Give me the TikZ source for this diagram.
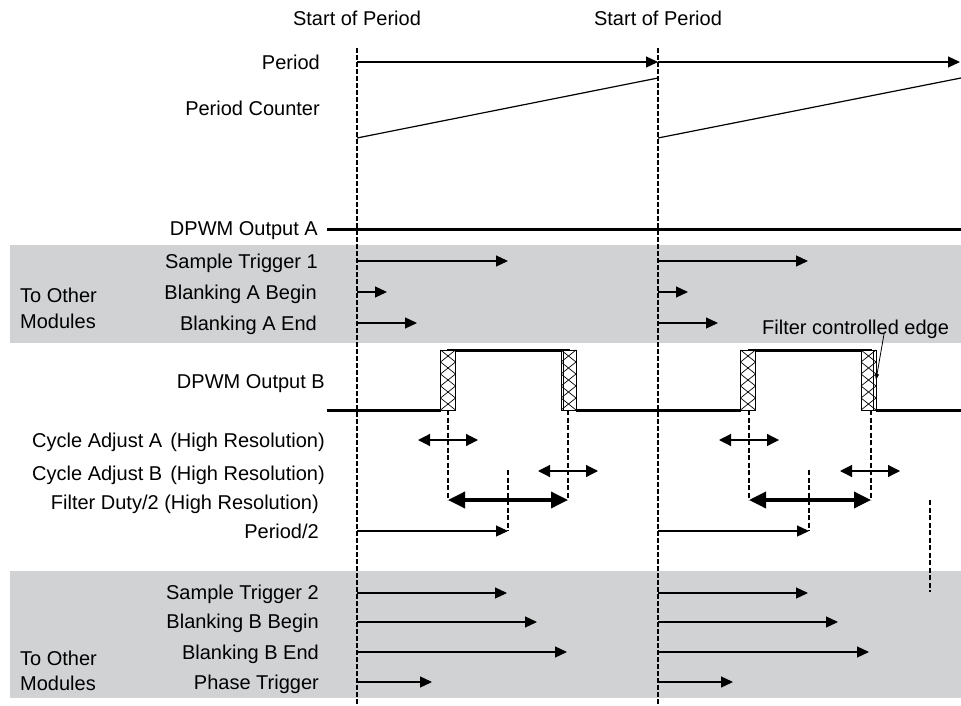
\documentclass[tikz,border=0pt]{standalone}
\usepackage{fontspec}
\setmainfont{Liberation Sans}
\usetikzlibrary{arrows.meta}
\definecolor{band}{RGB}{209,210,212}
\begin{document}
\begin{tikzpicture}[x=1pt,y=-1pt,
  font=\fontsize{20}{24}\selectfont,
  lbl/.style={anchor=east, inner sep=0pt, text height=0.716em, text depth=0pt, yshift=-3.5pt},
  lblw/.style={anchor=west, inner sep=0pt, text height=0.716em, text depth=0pt, yshift=-3.5pt},
  lblc/.style={anchor=center, inner sep=0pt, text height=0.716em, text depth=0pt, yshift=-3.5pt},
  sig/.style={line width=1.2pt, -{Triangle[length=12pt,width=11pt]}},
  wave/.style={line width=3pt},
  vdash/.style={line width=2pt, dash pattern=on 5pt off 2pt},
  sdash/.style={line width=2pt, dash pattern=on 5pt off 2.5pt},
  dbl/.style={line width=1.2pt, {Triangle[length=12pt,width=12pt]}-{Triangle[length=12pt,width=12pt]}},
  fdbl/.style={line width=3.5pt, {Triangle[length=17pt,width=16pt]}-{Triangle[length=17pt,width=16pt]}},
  xbox/.pic={
    \fill[white] (0,0) rectangle (15,60);
    \draw[line width=0.8pt] (0,0) rectangle (15,60);
    \foreach \k in {0,...,4}{
      \draw[line width=0.7pt] (0,12*\k) -- (15,12*\k+12);
      \draw[line width=0.7pt] (15,12*\k) -- (0,12*\k+12);
    }
  }
]
\useasboundingbox (0,0) rectangle (961,706);
% gray bands
\fill[band] (10,245) rectangle (961,343);
\fill[band] (10,571) rectangle (961,698);

% start of period markers
\node[lblc] (sop1) at (357,18.5) {Start of Period};
\node[lblc] (sop2) at (658,18.5) {Start of Period};
\coordinate (t1a) at (357,48); \coordinate (t1b) at (357,705);
\coordinate (t2a) at (658,48); \coordinate (t2b) at (658,705);

% labels
\node[lbl] (lPeriod) at (320,62) {Period};
\node[lbl] (lCounter) at (320,108) {Period Counter};
\node[lbl] (lA) at (318,228.5) {DPWM Output A};
\node[lbl] (lST1) at (318,261) {Sample Trigger 1};
\node[lbl] (lBAB) at (317,292.5) {Blanking A Begin};
\node[lbl] (lBAE) at (317,323) {Blanking A End};
\node[lblw] (lTo1) at (20,295) {To Other};
\node[lblw] (lMod1) at (20,321) {Modules};
\node[lbl] (lB) at (325,381) {DPWM Output B};
\node[lbl] (lCAA) at (325,440) {Cycle Adjust A\hspace{0.4em}(High Resolution)};
\node[lbl] (lCAB) at (325,473) {Cycle Adjust B\hspace{0.4em}(High Resolution)};
\node[lbl] (lFD) at (319,502) {Filter Duty/2 (High Resolution)};
\node[lbl] (lP2) at (319,531) {Period/2};
\node[lbl] (lST2) at (319,592) {Sample Trigger 2};
\node[lbl] (lBBB) at (319,621) {Blanking B Begin};
\node[lbl] (lBBE) at (319,652) {Blanking B End};
\node[lbl] (lPT) at (319,682) {Phase Trigger};
\node[lblw] (lTo2) at (20,658) {To Other};
\node[lblw] (lMod2) at (20,683) {Modules};
\node[lblw] (lFCE) at (762,327.5) {Filter controlled edge};

% period arrows and counter
\draw[sig] (357,62) -- (658,62);
\draw[sig] (658,62) -- (960,62);
\draw[line width=1.2pt] (357,138) -- (658,78);
\draw[line width=1.2pt] (658,138) -- (961,78);

% DPWM output A
\draw[wave] (327,229) -- (961,229);

% group 1 triggers
\draw[sig] (357,261) -- (508,261);
\draw[sig] (658,261) -- (808,261);
\draw[sig] (357,292) -- (387,292);
\draw[sig] (658,292) -- (688,292);
\draw[sig] (357,323) -- (417,323);
\draw[sig] (658,323) -- (718,323);

% DPWM output B waveform
\draw[wave] (327,410) -- (441,410);
\draw[wave] (447,350) -- (570,350);
\draw[wave] (576,410) -- (741,410);
\draw[wave] (748,350) -- (872,350);
\draw[wave] (876,410) -- (961,410);
\pic at (440.5,350) {xbox};
\pic at (561,350) {xbox};
\pic at (740.5,350) {xbox};
\pic at (861,350) {xbox};
\draw[line width=0.7pt] (563.5,350) -- (563.5,410);
\draw[line width=0.7pt] (873.5,350) -- (873.5,410);

% dashed edge guides
\draw[sdash] (448,410) -- (448,500);
\draw[sdash] (568,410) -- (568,498);
\draw[sdash] (749,410) -- (749,500);
\draw[sdash] (871,410) -- (871,500);
\draw[sdash] (508,470) -- (508,531);
\draw[sdash] (809,470) -- (809,531);
\draw[sdash] (930,500) -- (930,592);

% cycle adjust arrows
\draw[dbl] (418,440) -- (478,440);
\draw[dbl] (719,440) -- (779,440);
\draw[dbl] (538,471) -- (598,471);
\draw[dbl] (840,471) -- (900,471);

% filter duty arrows
\draw[fdbl] (448,500) -- (568,500);
\draw[fdbl] (749,500) -- (871,500);

% period/2
\draw[sig] (357,531) -- (508,531);
\draw[sig] (658,531) -- (809,531);

% group 2 triggers
\draw[sig] (357,593) -- (507,593);
\draw[sig] (658,593) -- (808,593);
\draw[sig] (357,622) -- (537,622);
\draw[sig] (658,622) -- (838,622);
\draw[sig] (357,652) -- (567,652);
\draw[sig] (658,652) -- (869,652);
\draw[sig] (357,682) -- (432,682);
\draw[sig] (658,682) -- (733,682);

% main period dashed lines
\draw[vdash] (t1a) -- (t1b);
\draw[vdash] (t2a) -- (t2b);

% leader
\coordinate (fceTip) at (876,380);
\coordinate (fceFrom) at (884,334);
\draw[line width=0.8pt, -{Triangle[length=6pt,width=4pt]}] (fceFrom) -- (fceTip);
\end{tikzpicture}
\end{document}
